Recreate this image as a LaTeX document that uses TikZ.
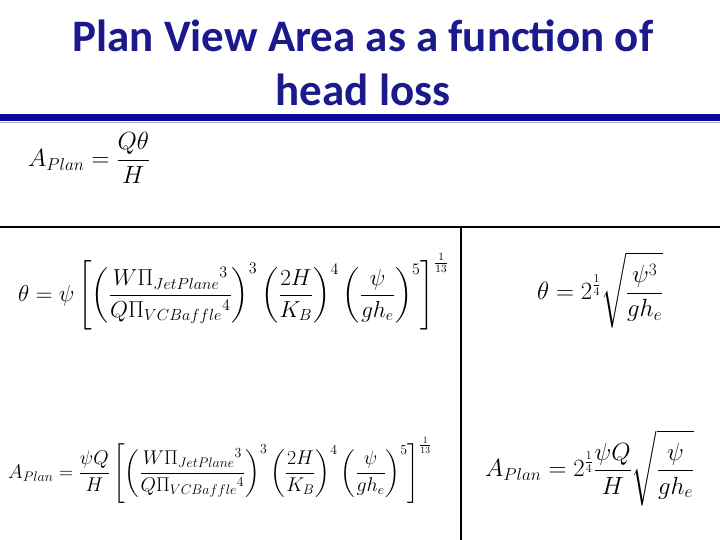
\documentclass[tikz,border=0pt]{standalone}
\usepackage{fontspec}
\usepackage{amsmath}
\usepackage{graphicx}
\setsansfont{Carlito}
\definecolor{ttl}{HTML}{1A1A8C}
\definecolor{bar}{HTML}{0A0AA0}
\tikzset{eq/.style={inner sep=0pt}}
\newcommand{\fs}[1]{\fontsize{#1}{#1}\selectfont}
\begin{document}
\begin{tikzpicture}[x=1pt,y=-1pt]
\useasboundingbox (0,0) rectangle (720,540);
\node[font=\sffamily\bfseries\fontsize{45}{54}\selectfont,text=ttl,align=center] (title) at (363,63) {Plan View Area as a function of\\head loss};
\fill[bar] (0,114) rectangle (720,121);
\draw[gray!60,line width=1pt] (0,123) -- (720,123);
\coordinate (hl) at (0,227); \coordinate (hr) at (720,227);
\coordinate (vt) at (461,227); \coordinate (vb) at (461,540);
\draw[line width=1.5pt] (hl) -- (hr);
\draw[line width=1.5pt] (vt) -- (vb);
\node[eq,anchor=west,font=\fs{23}] (e1) at (28,158) {$\displaystyle A_{Plan}=\frac{Q\theta}{H}$};
\node[eq,anchor=west,font=\fs{20}] (e2) at (18,292) {\scalebox{1.116}{$\displaystyle \theta=\psi\left[\left(\frac{W\Pi_{JetPlane}{}^{3}}{Q\Pi_{VCBaffle}{}^{4}}\right)^{3}\left(\frac{2H}{K_B}\right)^{4}\left(\frac{\psi}{gh_e}\right)^{5}\right]^{\frac{1}{13}}$}};
\node[eq,anchor=west,font=\fs{26}] (e3) at (537,290) {$\displaystyle \theta=2^{\frac14}\sqrt{\frac{\psi^3}{gh_e}}$};
\node[eq,anchor=west,font=\fs{20}] (e4) at (8,470) {\scalebox{0.96}{$\displaystyle A_{Plan}=\frac{\psi Q}{H}\left[\left(\frac{W\Pi_{JetPlane}{}^{3}}{Q\Pi_{VCBaffle}{}^{4}}\right)^{3}\left(\frac{2H}{K_B}\right)^{4}\left(\frac{\psi}{gh_e}\right)^{5}\right]^{\frac{1}{13}}$}};
\node[eq,anchor=west,font=\fs{25}] (e5) at (485,468) {$\displaystyle A_{Plan}=2^{\frac14}\frac{\psi Q}{H}\sqrt{\frac{\psi}{gh_e}}$};
\end{tikzpicture}
\end{document}
